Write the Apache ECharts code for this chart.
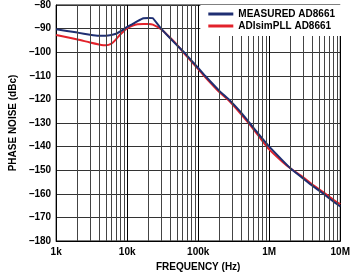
<!DOCTYPE html>
<html>
<head>
<meta charset="utf-8">
<script src="https://cdn.jsdelivr.net/npm/echarts@6/dist/echarts.min.js"></script>
<style>
  html, body { margin: 0; padding: 0; background: #fff; }
  #chart { width: 353px; height: 277px; }
</style>
</head>
<body>
<div id="chart"></div>
<script>
// frequency points (Hz)
var freqs = [1000, 2000, 3000, 4000, 5000, 6000, 7000, 8000, 9000, 10000, 12000, 14000, 17000, 20000, 23000,
  30000, 40000, 50000, 63000, 100000, 125000, 200000, 270000, 400000, 530000, 700000,
  1000000, 1500000, 2000000, 3000000, 4000000, 5800000, 8000000, 10000000];

// MEASURED AD8661 (dBc/Hz)
var measured = [-90.3, -91.7, -92.6, -93.0, -93.0, -92.7, -92.2, -91.2, -90.2, -89.3, -88.0, -86.8, -85.6, -85.5, -85.6,
  -90.0, -94.0, -97.0, -100.0, -106.7, -110.0, -116.5, -120.0, -125.5, -130.0, -134.5,
  -140.0, -145.5, -149.3, -153.5, -156.5, -160.0, -163.3, -165.4];

// ADIsimPLL AD8661 (dBc/Hz)
var simulated = [-92.7, -94.6, -95.9, -96.7, -97.1, -96.4, -94.5, -92.5, -91.0, -89.8, -88.7, -88.2, -88.0, -88.0, -88.3,
  -90.3, -93.8, -96.8, -100.4, -107.2, -110.5, -117.0, -120.5, -126.2, -130.6, -135.3,
  -141.2, -146.2, -149.3, -153.0, -156.0, -159.4, -162.5, -164.4];

var xTickValues = [1000, 10000, 100000, 1000000, 10000000];
var xTickLabels = ['1k', '10k', '100k', '1M', '10M'];

// intermediate log grid lines (2..9 in every decade)
var decades = [1000, 10000, 100000, 1000000];
var multipliers = [2, 3, 4, 5, 6, 7, 8, 9];
var minorFreqs = [];
decades.forEach(function (d) {
  multipliers.forEach(function (m) { minorFreqs.push(d * m); });
});

var font = 'Liberation Sans, Arial, sans-serif';

var chart = echarts.init(document.getElementById('chart'));

var option = {
  animation: false,
  backgroundColor: '#fff',
  grid: {
    left: 45,
    right: 12,
    top: 5,
    bottom: 35,
    show: true,
    borderColor: '#000',
    borderWidth: 1,
    backgroundColor: 'transparent'
  },
  legend: {
    data: ['MEASURED AD8661', 'ADIsimPLL AD8661'],
    orient: 'vertical',
    right: 12,
    top: 5,
    z: 20,
    icon: 'rect',
    itemWidth: 25,
    itemHeight: 3,
    itemGap: 0,
    padding: [3, 6, 4, 8],
    backgroundColor: '#fff',
    textStyle: {
      color: '#000',
      fontFamily: font,
      fontWeight: 'bold',
      fontSize: 10,
      lineHeight: 12
    }
  },
  xAxis: {
    type: 'log',
    logBase: 10,
    min: 1000,
    max: 10000000,
    name: 'FREQUENCY (Hz)',
    nameLocation: 'middle',
    nameGap: 21,
    nameTextStyle: {
      color: '#000',
      fontFamily: font,
      fontWeight: 'bold',
      fontSize: 10
    },
    axisLine: { show: true, lineStyle: { color: '#000', width: 1 } },
    axisTick: { show: false },
    axisLabel: {
      margin: 6,
      color: '#000',
      fontFamily: font,
      fontWeight: 'bold',
      fontSize: 10,
      formatter: function (v) {
        var i = xTickValues.indexOf(Math.round(v));
        return i >= 0 ? xTickLabels[i] : '';
      }
    },
    splitLine: { show: true, lineStyle: { color: '#000', width: 1 } }
  },
  yAxis: {
    type: 'value',
    min: -180,
    max: -80,
    interval: 10,
    name: 'PHASE NOISE (dBc)',
    nameLocation: 'middle',
    nameGap: 34,
    nameTextStyle: {
      color: '#000',
      fontFamily: font,
      fontWeight: 'bold',
      fontSize: 10
    },
    axisLine: { show: true, lineStyle: { color: '#000', width: 1 } },
    axisTick: { show: false },
    axisLabel: {
      margin: 5,
      color: '#000',
      fontFamily: font,
      fontWeight: 'bold',
      fontSize: 10,
      formatter: function (v) {
        return String(v).replace('-', '\u2013');
      }
    },
    splitLine: { show: true, lineStyle: { color: '#333', width: 1 } }
  },
  series: [
    {
      // minor vertical grid
      type: 'line',
      data: [],
      z: 1,
      silent: true,
      markLine: {
        silent: true,
        symbol: 'none',
        animation: false,
        label: { show: false },
        lineStyle: { color: '#444', width: 1, type: 'solid' },
        data: minorFreqs.map(function (f) { return { xAxis: f }; })
      }
    },
    {
      name: 'ADIsimPLL AD8661',
      type: 'line',
      showSymbol: false,
      smooth: 0.25,
      z: 3,
      lineStyle: { color: '#e2222b', width: 2 },
      itemStyle: { color: '#e2222b' },
      data: freqs.map(function (f, i) { return [f, simulated[i]]; })
    },
    {
      name: 'MEASURED AD8661',
      type: 'line',
      showSymbol: false,
      smooth: 0.1,
      z: 4,
      lineStyle: { color: '#1f2f72', width: 2 },
      itemStyle: { color: '#1f2f72' },
      data: freqs.map(function (f, i) { return [f, measured[i]]; })
    }
  ]
};

chart.setOption(option);
</script>
</body>
</html>
